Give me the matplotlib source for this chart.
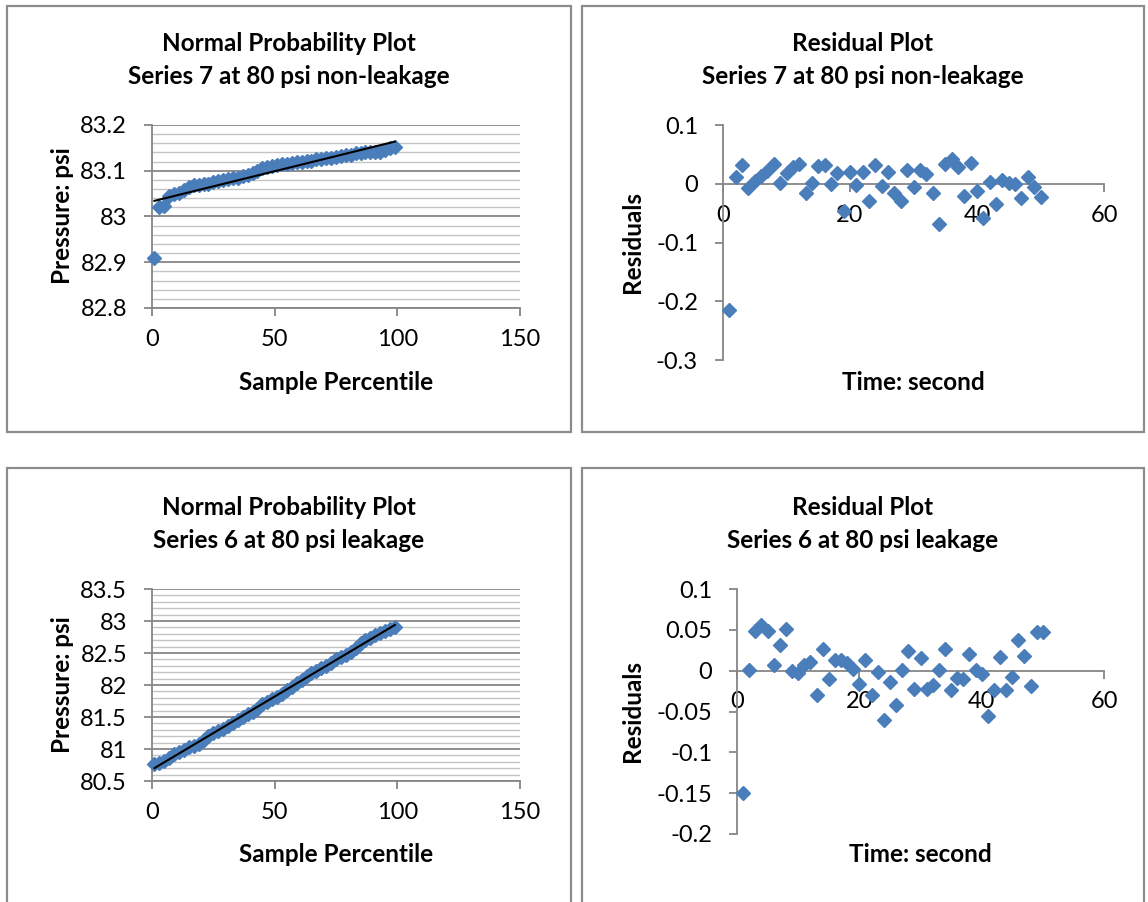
import numpy as np
import matplotlib
matplotlib.use("Agg")
import matplotlib.pyplot as plt
from matplotlib.patches import Rectangle
from matplotlib.ticker import MultipleLocator, FuncFormatter

plt.rcParams["font.family"] = ["Lato", "DejaVu Sans"]

# ---- data ----
percentile = np.arange(1, 100, 2)  # 50 samples -> 1, 3, ..., 99

pressure_s7 = [82.91, 83.02, 83.022, 83.045, 83.05, 83.052, 83.058, 83.065, 83.068, 83.068,
               83.07, 83.072, 83.075, 83.078, 83.08, 83.082, 83.085, 83.085, 83.088, 83.09,
               83.095, 83.10, 83.105, 83.108, 83.11, 83.112, 83.115, 83.115, 83.118, 83.12,
               83.12, 83.122, 83.122, 83.125, 83.125, 83.128, 83.128, 83.13, 83.132, 83.135,
               83.135, 83.138, 83.138, 83.14, 83.14, 83.14, 83.142, 83.145, 83.15, 83.152]

pressure_s6 = [80.76, 80.78, 80.82, 80.86, 80.92, 80.95, 80.98, 81.03, 81.05, 81.08,
               81.14, 81.20, 81.25, 81.28, 81.32, 81.36, 81.40, 81.46, 81.50, 81.55,
               81.58, 81.63, 81.70, 81.74, 81.78, 81.82, 81.86, 81.92, 81.97, 82.03,
               82.08, 82.14, 82.18, 82.22, 82.26, 82.30, 82.35, 82.40, 82.43, 82.47,
               82.52, 82.58, 82.66, 82.70, 82.74, 82.78, 82.82, 82.85, 82.88, 82.90]

time_s = np.arange(1, 51)

resid_s7 = [-0.215, 0.011, 0.032, -0.008, 0.005, 0.014, 0.022, 0.033, 0.001, 0.019,
            0.028, 0.034, -0.015, 0.002, 0.030, 0.032, 0.000, 0.018, -0.047, 0.020,
            -0.002, 0.020, -0.029, 0.032, -0.003, 0.020, -0.015, -0.029, 0.024, -0.006,
            0.024, 0.016, -0.016, -0.069, 0.034, 0.042, 0.028, -0.020, 0.036, -0.012,
            -0.058, 0.003, -0.035, 0.006, 0.002, 0.000, -0.025, 0.011, -0.006, -0.022]

resid_s6 = [-0.150, 0.001, 0.048, 0.056, 0.048, 0.007, 0.031, 0.051, -0.001, -0.003,
            0.007, 0.011, -0.030, 0.027, -0.010, 0.013, 0.013, 0.010, 0.002, -0.016,
            0.013, -0.030, -0.002, -0.061, -0.014, -0.042, 0.001, 0.024, -0.022, 0.016,
            -0.023, -0.018, 0.001, 0.027, -0.024, -0.009, -0.010, 0.021, 0.001, -0.004,
            -0.055, -0.024, 0.017, -0.024, -0.008, 0.038, 0.018, -0.019, 0.047, 0.047]

# ---- styling ----
W, H = 1148, 902
BLUE = "#4a7ebb"
AXIS_GRAY = "#868686"
MINOR_GRAY = "#c4c4c4"
TICK_FS = 17
LABEL_FS = 17.5
MS = 6.8

fig = plt.figure(figsize=(W / 100, H / 100), dpi=100)


def fx(px):
    return px / W


def fy(py):
    return 1 - py / H


def axes_px(x0, y0, x1, y1):
    return fig.add_axes([fx(x0), fy(y1), (x1 - x0) / W, (y1 - y0) / H])


def frame(x0, y0, x1, y1):
    fig.add_artist(Rectangle((fx(x0), fy(y1)), (x1 - x0) / W, (y1 - y0) / H,
                             transform=fig.transFigure, fill=False,
                             ec="#8c8c8c", lw=1.6))


def excel_fmt(v, _pos):
    v = round(v, 6)
    if v == 0:
        return "0"
    return f"{v:g}"


def style_common(ax):
    for s in ("top", "right"):
        ax.spines[s].set_visible(False)
    for s in ("left", "bottom"):
        ax.spines[s].set_color(AXIS_GRAY)
        ax.spines[s].set_linewidth(1.3)
    ax.tick_params(axis="both", which="major", direction="out", length=6,
                   width=1.3, color=AXIS_GRAY, labelsize=TICK_FS)
    ax.tick_params(axis="y", pad=12)
    ax.tick_params(axis="x", pad=9)
    ax.yaxis.set_major_formatter(FuncFormatter(excel_fmt))
    ax.xaxis.set_major_formatter(FuncFormatter(excel_fmt))


def prob_panel(box, values, ylim, ymajor, yminor):
    ax = axes_px(*box)
    style_common(ax)
    ax.set_xlim(0, 150)
    ax.set_ylim(*ylim)
    ax.xaxis.set_major_locator(MultipleLocator(50))
    ax.yaxis.set_major_locator(MultipleLocator(ymajor))
    ax.yaxis.set_minor_locator(MultipleLocator(yminor))
    ax.tick_params(axis="y", which="minor", length=0)
    ax.grid(axis="y", which="major", color=AXIS_GRAY, lw=1.3)
    ax.grid(axis="y", which="minor", color=MINOR_GRAY, lw=1.0)
    ax.set_axisbelow(True)
    ax.plot(percentile, values, ls="none", marker="D", ms=MS, color=BLUE,
            mec=BLUE, clip_on=False, zorder=3)
    slope, icept = np.polyfit(percentile, values, 1)
    xs = np.array([percentile[0], percentile[-1]])
    ax.plot(xs, slope * xs + icept, color="black", lw=1.5, zorder=4)
    return ax


def resid_panel(box, values, ylim, ymajor):
    ax = axes_px(*box)
    style_common(ax)
    ax.set_xlim(0, 60)
    ax.set_ylim(*ylim)
    ax.spines["bottom"].set_position(("data", 0))
    ax.xaxis.set_major_locator(MultipleLocator(20))
    ax.yaxis.set_major_locator(MultipleLocator(ymajor))
    ax.plot(time_s, values, ls="none", marker="D", ms=MS, color=BLUE,
            mec=BLUE, clip_on=False, zorder=3)
    return ax


def title(x, y, lines):
    fig.text(fx(x), fy(y), lines, ha="center", va="center", fontsize=LABEL_FS,
             fontweight="bold", linespacing=1.55)


def xlabel(x, y, s):
    fig.text(fx(x), fy(y), s, ha="center", va="center", fontsize=LABEL_FS,
             fontweight="bold")


def ylabel(x, y, s):
    fig.text(fx(x), fy(y), s, ha="center", va="center", fontsize=LABEL_FS,
             fontweight="bold", rotation=90)


# frames
frame(7, 6, 571, 432)
frame(582, 6, 1144, 432)
frame(7, 468, 571, 930)
frame(582, 468, 1144, 930)

# top-left: normal probability, series 7
prob_panel((152, 125, 520, 308), pressure_s7, (82.8, 83.2), 0.1, 0.02)
title(289, 60, "Normal Probability Plot\nSeries 7 at 80 psi non-leakage")
xlabel(336, 383, "Sample Percentile")
ylabel(62, 216, "Pressure: psi")

# top-right: residuals, series 7
resid_panel((723, 125, 1104, 360), resid_s7, (-0.3, 0.1), 0.1)
title(863, 60, "Residual Plot\nSeries 7 at 80 psi non-leakage")
xlabel(913, 383, "Time: second")
ylabel(632, 242, "Residuals")

# bottom-left: normal probability, series 6
prob_panel((152, 589, 520, 781), pressure_s6, (80.5, 83.5), 0.5, 0.1)
title(289, 524, "Normal Probability Plot\nSeries 6 at 80 psi leakage")
xlabel(336, 855, "Sample Percentile")
ylabel(62, 685, "Pressure: psi")

# bottom-right: residuals, series 6
resid_panel((737, 589, 1104, 834), resid_s6, (-0.2, 0.1), 0.05)
title(863, 524, "Residual Plot\nSeries 6 at 80 psi leakage")
xlabel(920, 855, "Time: second")
ylabel(632, 711, "Residuals")

fig.savefig("out.png", dpi=100)
